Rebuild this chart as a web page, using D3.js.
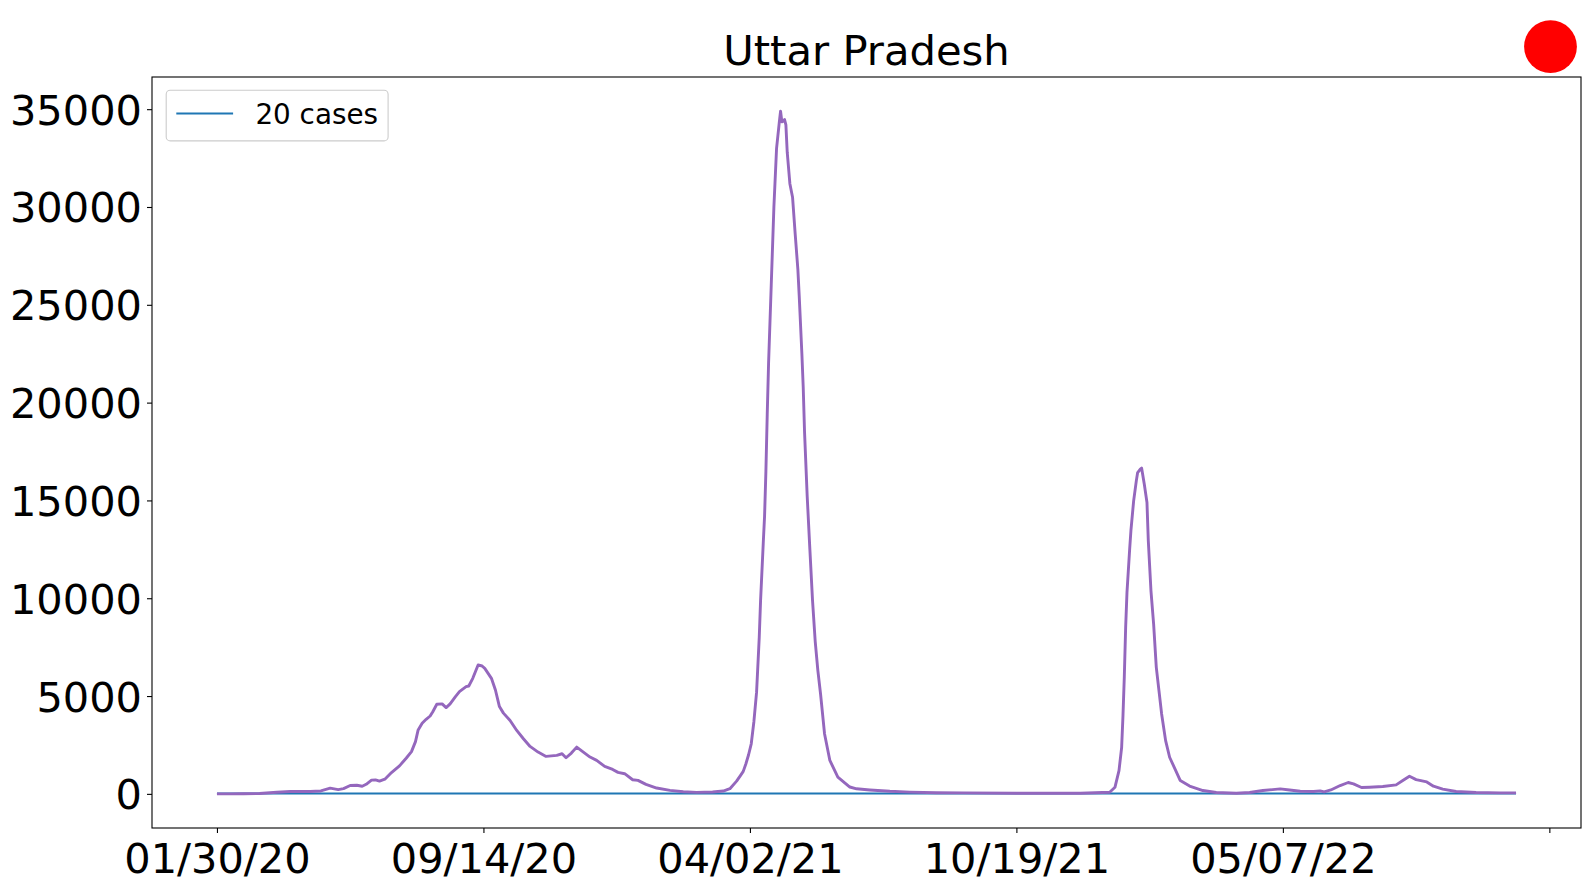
<!DOCTYPE html>
<html>
<head>
<meta charset="utf-8">
<script src="https://cdn.jsdelivr.net/npm/d3@7"></script>
<style>
  html, body { margin: 0; padding: 0; background: #fff; }
  svg { display: block; font-family: "DejaVu Sans", sans-serif; }
</style>
</head>
<body>
<svg id="chart" width="1589" height="890"></svg>
<script>
// ---- data (day index since 01/30/20, 7-day average cases) ----
const title = "Uttar Pradesh";
const days = [0,10,20,32,45,55,70,78,85,91,95,100,105,109,112,116,119,122,126,131,137,142,146,149,151,154,157,160,162,165,169,172,175,179,182,187,189,192,196,199,201,206,209,212,215,220,225,230,235,241,247,255,259,262,266,270,275,280,285,291,297,301,306,312,316,322,330,340,350,360,372,380,385,390,393,395,397,399,401,403,405,407,408,410,411,412,413,414,416,418,420,422,423,424,426,427,428,430,431,432,434,436,437,439,440,441,443,445,447,449,451,453,456,460,466,475,480,490,505,520,540,560,600,648,670,674,677,679,680,681,682,683,685,686,688,690,691,693,694,696,698,699,701,703,705,707,709,712,715,719,723,730,740,750,765,775,785,798,805,813,823,828,831,836,843,849,853,859,865,875,885,890,895,900,908,913,920,930,945,963,975];
const cases = [0,2,5,15,85,120,120,150,290,220,270,425,440,390,490,700,715,650,750,1090,1430,1820,2160,2670,3270,3610,3810,3980,4200,4580,4600,4410,4600,4970,5225,5480,5515,5906,6590,6535,6417,5906,5310,4460,4127,3753,3242,2817,2425,2136,1915,1966,2051,1847,2085,2391,2136,1881,1710,1404,1251,1098,1030,723,689,485,298,179,110,77,94,145,264,650,945,1150,1540,2000,2560,3700,5200,8000,9880,12800,14200,16500,19400,22000,26000,30000,33000,34300,34900,34350,34470,34200,32800,31190,30840,30500,28600,26800,25455,22500,20800,18500,15200,12500,9880,7800,6300,5116,3074,1710,860,350,260,200,130,90,60,50,35,34,85,340,1190,2380,4000,6000,8500,10300,12500,13500,14978,16000,16424,16595,16650,15829,14893,12935,10382,8680,6467,5276,4085,2723,1872,1276,681,400,170,70,34,70,170,255,200,136,119,153,100,200,425,580,510,323,340,374,460,680,900,730,610,390,240,120,70,50,50];
const thresholdLabel = "20 cases";
const thresholdValue = 20;
const xTickValues = [0, 200, 400, 600, 800, 1000];
const xTickLabels = ["01/30/20", "09/14/20", "04/02/21", "10/19/21", "05/07/22", ""];
const yTickValues = [0, 5000, 10000, 15000, 20000, 25000, 30000, 35000];

// ---- layout ----
const svg = d3.select("#chart");
const plot = { left: 152, right: 1581, top: 77, bottom: 828 };

const xMin = d3.min(days), xMax = d3.max(days);
const xPad = 0.05 * (xMax - xMin);
const x = d3.scaleLinear().domain([xMin - xPad, xMax + xPad]).range([plot.left, plot.right]);
const yMinD = d3.min(cases), yMaxD = d3.max(cases);
const yPad = 0.05 * (yMaxD - yMinD);
const y = d3.scaleLinear().domain([yMinD - yPad, yMaxD + yPad]).range([plot.bottom, plot.top]);

// clip
svg.append("defs").append("clipPath").attr("id", "clip")
  .append("rect").attr("x", plot.left).attr("y", plot.top)
  .attr("width", plot.right - plot.left).attr("height", plot.bottom - plot.top);

const g = svg.append("g").attr("clip-path", "url(#clip)");

// threshold line
g.append("path")
  .datum([xMin, xMax])
  .attr("d", d3.line().x(d => x(d)).y(() => y(thresholdValue)))
  .attr("fill", "none").attr("stroke", "#1f77b4").attr("stroke-width", 2);

// main series
const pts = days.map((d, i) => [d, cases[i]]);
g.append("path")
  .datum(pts)
  .attr("d", d3.line().x(d => x(d[0])).y(d => y(d[1])))
  .attr("fill", "none").attr("stroke", "#9467bd").attr("stroke-width", 2.9)
  .attr("stroke-linejoin", "round").attr("stroke-linecap", "butt");

// axes
const xAxis = d3.axisBottom(x).tickValues(xTickValues)
  .tickFormat((d, i) => xTickLabels[i]).tickSize(5).tickPadding(8);
const gx = svg.append("g").attr("transform", `translate(0,${plot.bottom})`).call(xAxis);
gx.select(".domain").remove();
gx.selectAll("line").attr("stroke", "#000").attr("stroke-width", 1.1);
gx.selectAll("text").attr("font-size", 41.5).attr("fill", "#000")
  .attr("font-family", "DejaVu Sans").attr("dy", "0.76em");

const yAxis = d3.axisLeft(y).tickValues(yTickValues).tickFormat(d3.format("d")).tickSize(5).tickPadding(5);
const gy = svg.append("g").attr("transform", `translate(${plot.left},0)`).call(yAxis);
gy.select(".domain").remove();
gy.selectAll("line").attr("stroke", "#000").attr("stroke-width", 1.1);
gy.selectAll("text").attr("font-size", 41.5).attr("fill", "#000")
  .attr("font-family", "DejaVu Sans").attr("dy", "0.36em");

// frame
svg.append("rect").attr("x", plot.left).attr("y", plot.top)
  .attr("width", plot.right - plot.left).attr("height", plot.bottom - plot.top)
  .attr("fill", "none").attr("stroke", "#000").attr("stroke-width", 1.1);

// title
svg.append("text").attr("x", (plot.left + plot.right) / 2).attr("y", 65)
  .attr("text-anchor", "middle").attr("font-size", 41.7).attr("fill", "#000")
  .text(title);

// red dot
svg.append("circle").attr("cx", 1550.5).attr("cy", 46.6).attr("r", 26.4).attr("fill", "#ff0000");

// legend
const lg = svg.append("g");
lg.append("rect").attr("x", 166.2).attr("y", 90.2).attr("width", 221.9).attr("height", 50.7)
  .attr("rx", 4).attr("ry", 4).attr("fill", "#fff").attr("fill-opacity", 0.8)
  .attr("stroke", "#cccccc").attr("stroke-width", 1.1);
lg.append("line").attr("x1", 176.3).attr("x2", 233.1).attr("y1", 113.5).attr("y2", 113.5)
  .attr("stroke", "#1f77b4").attr("stroke-width", 2);
lg.append("text").attr("x", 255.4).attr("y", 113.5).attr("dy", "0.36em")
  .attr("font-size", 27.8).attr("fill", "#000").text(thresholdLabel);
</script>
</body>
</html>
